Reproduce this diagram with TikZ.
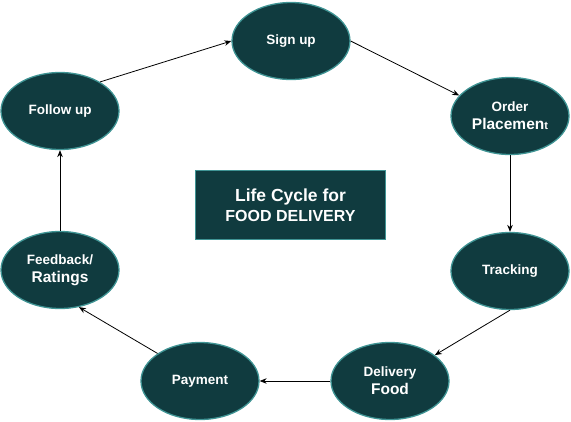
\documentclass[tikz,border=0pt]{standalone}
\usepackage{fontspec}
\setmainfont{Liberation Sans}
\usetikzlibrary{arrows.meta,shapes.geometric}
\definecolor{nodefill}{HTML}{103B3F}
\definecolor{nodeline}{HTML}{3F9494}
\begin{document}
\begin{tikzpicture}[x=1pt,y=-1pt,
  stage/.style={ellipse,draw=nodeline,fill=nodefill,line width=1.3pt,
    minimum width=118pt,minimum height=77pt,inner sep=0pt,align=center,
    text=white,font=\bfseries\fontsize{13.5}{18}\selectfont},
  titlebox/.style={rectangle,draw=nodeline,fill=nodefill,line width=1.3pt,
    minimum width=190pt,minimum height=69pt,inner sep=0pt,align=center,
    text=white,font=\bfseries\fontsize{16}{20.5}\selectfont},
  flow/.style={-{Stealth[length=7pt,width=5.5pt]},line width=0.8pt,black}]
\useasboundingbox (0,0) rectangle (571,421);
\node[stage] (su) at (291,41) {Sign up};
\node[stage] (op) at (510,116) {Order\\{\fontsize{15.5}{18}\selectfont Placemen{\fontsize{11}{18}\selectfont t}}};
\node[stage] (tr) at (510,271) {Tracking};
\node[stage] (df) at (390,381) {Delivery\\{\fontsize{15.5}{18}\selectfont Food}};
\node[stage] (pay) at (200,381) {Payment};
\node[stage] (fb) at (60,270) {Feedback/\\{\fontsize{15.5}{18}\selectfont Ratings}};
\node[stage] (fu) at (60,111) {Follow up};
\node[titlebox] (tb) at (290.5,205) {{\fontsize{17.5}{20.5}\selectfont Life Cycle for}\\FOOD DELIVERY};
\draw[flow] (fu.36) -- (su.west);
\draw[flow] (su.east) -- (op.158);
\draw[flow] (op.south) -- (tr.north);
\draw[flow] (tr.south) -- (df.30);
\draw[flow] (df.west) -- (pay.east);
\draw[flow] (pay.147) -- (fb.297);
\draw[flow] (fb.north) -- (fu.south);
\end{tikzpicture}
\end{document}
